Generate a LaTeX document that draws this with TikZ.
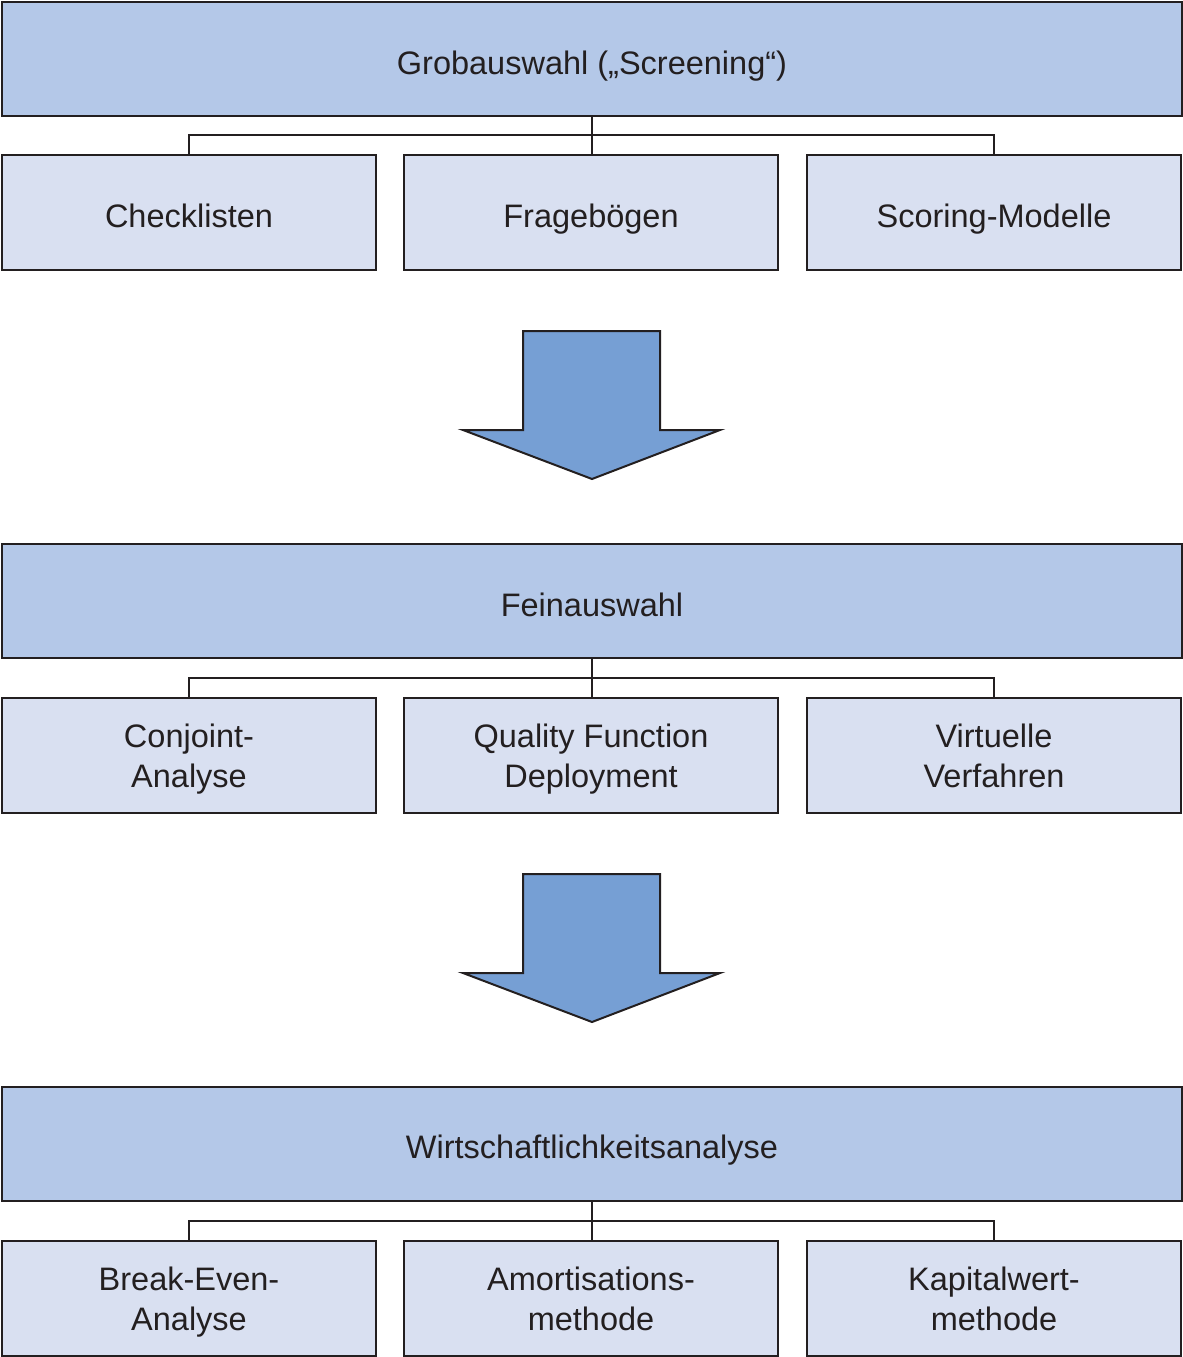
\documentclass[tikz,border=0pt]{standalone}
\usepackage{fontspec}
\setmainfont{Liberation Sans}
\definecolor{bigfill}{HTML}{B4C8E8}
\definecolor{smallfill}{HTML}{D9E0F1}
\definecolor{arrowfill}{HTML}{769FD4}
\definecolor{ink}{HTML}{231F20}
\begin{document}
\begin{tikzpicture}[x=1pt,y=-1pt,
  lbl/.style={font=\fontsize{32.5}{40}\selectfont, text=ink, inner sep=0pt, anchor=base},
  bigbox/.style={draw=ink, line width=2pt, fill=bigfill, inner sep=0pt, minimum width=1180pt, minimum height=114pt},
  smallbox/.style={draw=ink, line width=2pt, fill=smallfill, inner sep=0pt, minimum width=374pt, minimum height=115pt},
  conn/.style={draw=ink, line width=2pt},
  bigarrow/.style={draw=ink, line width=2pt, fill=arrowfill, line join=miter}]
\useasboundingbox (0,0) rectangle (1183,1357);

% Level 1
\node[bigbox] (g) at (592,59) {};
\node[smallbox] (g1) at (189,212.5) {};
\node[smallbox] (g2) at (591,212.5) {};
\node[smallbox] (g3) at (994,212.5) {};
\node[lbl] (gt) at ([yshift=-15pt]g.center) {Grobauswahl („Screening“)};
\node[lbl] (g1t) at ([yshift=-15pt]g1.center) {Checklisten};
\node[lbl] (g2t) at ([yshift=-15pt]g2.center) {Fragebögen};
\node[lbl] (g3t) at ([yshift=-15pt]g3.center) {Scoring-Modelle};
\coordinate (gj) at (592,135);
\draw[conn] (g.south -| gj) -- (gj);
\draw[conn] (g1.north) |- (gj) -| (g3.north);
\draw[conn] (gj) -- (g2.north -| gj);

% Arrow 1
\draw[bigarrow] (523,331) -- (660,331) -- (660,430) -- (720,430) -- (592,479) -- (463,430) -- (523,430) -- cycle;

% Level 2
\node[bigbox] (f) at (592,601) {};
\node[smallbox] (f1) at (189,755.5) {};
\node[smallbox] (f2) at (591,755.5) {};
\node[smallbox] (f3) at (994,755.5) {};
\node[lbl] (ft) at ([yshift=-15pt]f.center) {Feinauswahl};
\node[lbl] (f1a) at ([yshift=8pt]f1.center) {Conjoint-};
\node[lbl] (f1b) at ([yshift=-32pt]f1.center) {Analyse};
\node[lbl] (f2a) at ([yshift=8pt]f2.center) {Quality Function};
\node[lbl] (f2b) at ([yshift=-32pt]f2.center) {Deployment};
\node[lbl] (f3a) at ([yshift=8pt]f3.center) {Virtuelle};
\node[lbl] (f3b) at ([yshift=-32pt]f3.center) {Verfahren};
\coordinate (fj) at (592,678);
\draw[conn] (f.south -| fj) -- (fj);
\draw[conn] (f1.north) |- (fj) -| (f3.north);
\draw[conn] (fj) -- (f2.north -| fj);

% Arrow 2
\draw[bigarrow] (523,874) -- (660,874) -- (660,973) -- (720,973) -- (592,1022) -- (463,973) -- (523,973) -- cycle;

% Level 3
\node[bigbox] (w) at (592,1143.5) {};
\node[smallbox] (w1) at (189,1298.5) {};
\node[smallbox] (w2) at (591,1298.5) {};
\node[smallbox] (w3) at (994,1298.5) {};
\node[lbl] (wt) at ([yshift=-15pt]w.center) {Wirtschaftlichkeitsanalyse};
\node[lbl] (w1a) at ([yshift=8pt]w1.center) {Break-Even-};
\node[lbl] (w1b) at ([yshift=-32pt]w1.center) {Analyse};
\node[lbl] (w2a) at ([yshift=8pt]w2.center) {Amortisations-};
\node[lbl] (w2b) at ([yshift=-32pt]w2.center) {methode};
\node[lbl] (w3a) at ([yshift=8pt]w3.center) {Kapitalwert-};
\node[lbl] (w3b) at ([yshift=-32pt]w3.center) {methode};
\coordinate (wj) at (592,1221);
\draw[conn] (w.south -| wj) -- (wj);
\draw[conn] (w1.north) |- (wj) -| (w3.north);
\draw[conn] (wj) -- (w2.north -| wj);
\end{tikzpicture}
\end{document}
